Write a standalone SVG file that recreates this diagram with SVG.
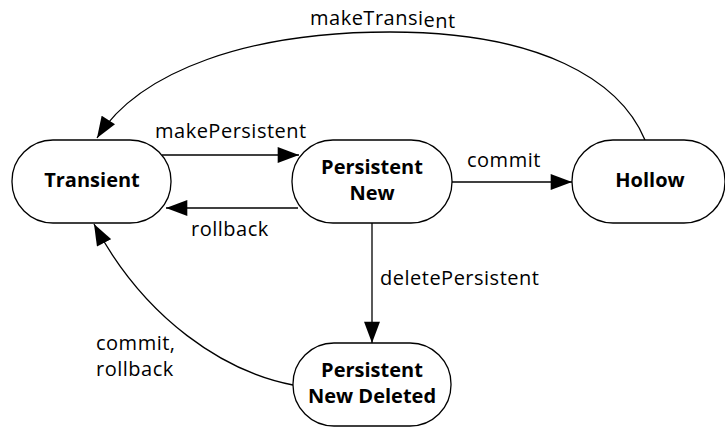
<svg xmlns="http://www.w3.org/2000/svg" width="725" height="428" viewBox="0 0 725 428">
<style>
.node{fill:#fff;stroke:#000;stroke-width:1.3}
.nt{font-family:"Open Sans","Noto Sans",sans-serif;font-weight:bold;font-size:20px;text-anchor:middle;fill:#000}
.lbl{font-family:"Open Sans","Noto Sans",sans-serif;font-size:20px;letter-spacing:0.5px;fill:#000}
.edge{fill:none;stroke:#000;stroke-width:1.3}
</style>
<defs>
<marker id="arr" markerUnits="userSpaceOnUse" markerWidth="22" markerHeight="16" viewBox="0 0 20 15" refX="20" refY="7.5" orient="auto">
<path d="M0,0 L20,7.5 L0,15 Z" fill="#000"/>
</marker>
</defs>
<rect width="725" height="428" fill="#fff"/>
<g id="connectors">
<path class="edge" marker-end="url(#arr)" d="M645,140 C620,80 540,32 390,32 C250,32 140,70 97,138"/>
<path class="edge" marker-end="url(#arr)" d="M162,155 L299,155"/>
<path class="edge" marker-end="url(#arr)" d="M298,208 L166,208"/>
<path class="edge" marker-end="url(#arr)" d="M452,182 L572,182"/>
<path class="edge" marker-end="url(#arr)" d="M372,223 L372,343"/>
<path class="edge" marker-end="url(#arr)" d="M293,385 C225,372 145,320 94,224"/>
<text class="lbl" x="310" y="25">makeTransi<tspan dy="1.5">e</tspan><tspan dy="1.5">nt</tspan></text>
<text class="lbl" x="155" y="138">makePersistent</text>
<text class="lbl" x="467" y="167">commit</text>
<text class="lbl" x="191" y="236">rollback</text>
<text class="lbl" x="380" y="285">deletePersistent</text>
<text class="lbl" x="96" y="350">commit,</text>
<text class="lbl" x="96" y="376">rollback</text>
</g>
<g id="transient">
<rect class="node" x="12" y="140" width="159" height="83" rx="41" ry="41"/>
<text class="nt" x="92" y="187">Transient</text>
</g>
<g id="persistent-new">
<rect class="node" x="292" y="140" width="160" height="83" rx="41" ry="41"/>
<text class="nt" x="372" y="174">Persistent</text>
<text class="nt" x="372" y="200">New</text>
</g>
<g id="hollow">
<rect class="node" x="572" y="140" width="153" height="83" rx="41" ry="41"/>
<text class="nt" x="650" y="187">Hollow</text>
</g>
<g id="persistent-new-deleted">
<rect class="node" x="293" y="343" width="158" height="83" rx="41" ry="41"/>
<text class="nt" x="372" y="377">Persistent</text>
<text class="nt" x="372" y="403">New Deleted</text>
</g>
</svg>
